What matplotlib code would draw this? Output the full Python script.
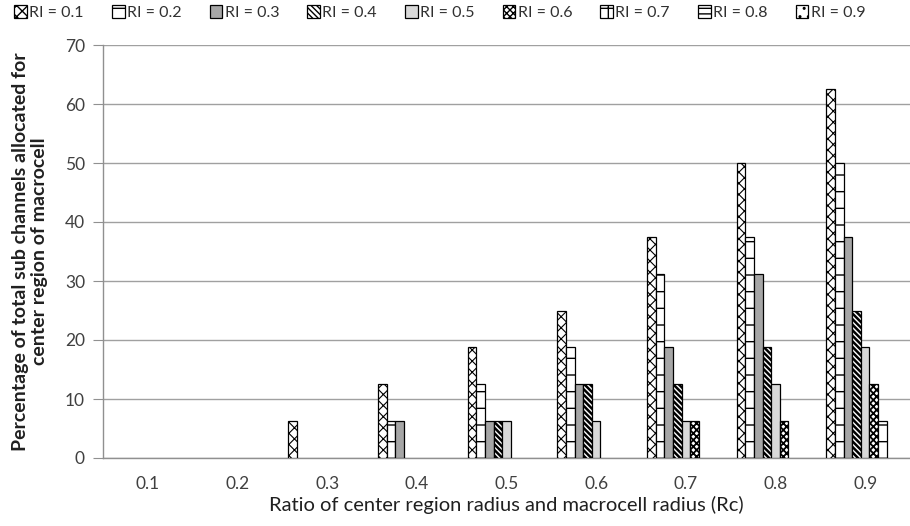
import matplotlib
matplotlib.use("Agg")
import matplotlib.pyplot as plt
import numpy as np

categories = ["0.1", "0.2", "0.3", "0.4", "0.5", "0.6", "0.7", "0.8", "0.9"]
series_names = ["RI = 0.1", "RI = 0.2", "RI = 0.3", "RI = 0.4", "RI = 0.5",
                "RI = 0.6", "RI = 0.7", "RI = 0.8", "RI = 0.9"]

ri_01 = [0, 0, 6.25, 12.5, 18.75, 25, 37.5, 50, 62.5]
ri_02 = [0, 0, 0, 6.25, 12.5, 18.75, 31.25, 37.5, 50]
ri_03 = [0, 0, 0, 6.25, 6.25, 12.5, 18.75, 31.25, 37.5]
ri_04 = [0, 0, 0, 0, 6.25, 12.5, 12.5, 18.75, 25]
ri_05 = [0, 0, 0, 0, 6.25, 6.25, 6.25, 12.5, 18.75]
ri_06 = [0, 0, 0, 0, 0, 0, 6.25, 6.25, 12.5]
ri_07 = [0, 0, 0, 0, 0, 0, 0, 0, 6.25]
ri_08 = [0, 0, 0, 0, 0, 0, 0, 0, 0]
ri_09 = [0, 0, 0, 0, 0, 0, 0, 0, 0]
series = [ri_01, ri_02, ri_03, ri_04, ri_05, ri_06, ri_07, ri_08, ri_09]

fills = ["white", "white", "#a6a6a6", "white", "#d9d9d9", "white", "white", "white", "white"]
hatches = ["xxx", "-", None, "\\\\\\\\\\\\", None, "xxxxx", "+", "---", ".."]
hatch_lw = [0.8, 1.0, 1.0, 1.8, 1.0, 1.3, 1.0, 1.0, 1.0]

plt.rcParams['font.family'] = ['Lato', 'DejaVu Sans']
plt.rcParams['hatch.linewidth'] = 1.0

fig = plt.figure(figsize=(9.10, 5.26), dpi=100)
ax = fig.add_axes([103/910, 68/526, 807/910, 413/526])

n = len(series)
bw = 0.0959
gap = (1 - n * bw) / 2
x = np.arange(len(categories))
handles = []
for i, (vals, fc, h, name) in enumerate(zip(series, fills, hatches, series_names)):
    pos = x + gap + bw * i + bw / 2
    v = np.asarray(vals, dtype=float)
    v = np.where(v > 0, v, np.nan)
    bars = ax.bar(pos, v, width=bw, color=fc, edgecolor="black",
                  linewidth=0.9, hatch=h, label=name, zorder=3)
    for p in bars.patches:
        if hasattr(p, "set_hatch_linewidth"):
            p.set_hatch_linewidth(hatch_lw[i])
    handles.append(bars)

ax.set_xlim(0, 9)
ax.set_ylim(0, 70)
ax.set_yticks(np.arange(0, 71, 10))
ax.set_xticks(x + 0.5)
ax.set_xticklabels(categories)
ax.yaxis.grid(True, color="#a0a0a0", linewidth=1.0, zorder=0)
ax.set_axisbelow(True)
for s in ["top", "right"]:
    ax.spines[s].set_visible(False)
for s in ["left", "bottom"]:
    ax.spines[s].set_color("#909090")
    ax.spines[s].set_linewidth(1.0)
ax.tick_params(axis="y", length=7, color="#909090", labelsize=12.5, labelcolor="#404040", pad=6)
ax.tick_params(axis="x", length=0, labelsize=12.5, labelcolor="#404040", pad=13)

ax.set_xlabel("Ratio of center region radius and macrocell radius (Rc)", fontsize=14.5,
              color="#202020", labelpad=3)
ax.set_ylabel("Percentage of total sub channels allocated for\ncenter region of macrocell",
              fontsize=14, fontweight="bold", color="#202020", labelpad=12, linespacing=1.15)

leg = fig.legend(handles=handles, loc="upper left", bbox_to_anchor=(0.005, 1.008), ncol=9,
                 frameon=False, fontsize=11.5, handlelength=0.8, handleheight=0.8,
                 handletextpad=0.15, columnspacing=1.75, borderaxespad=0.2)
for t in leg.get_texts():
    t.set_color("#303030")

fig.savefig("out.png", dpi=100)
